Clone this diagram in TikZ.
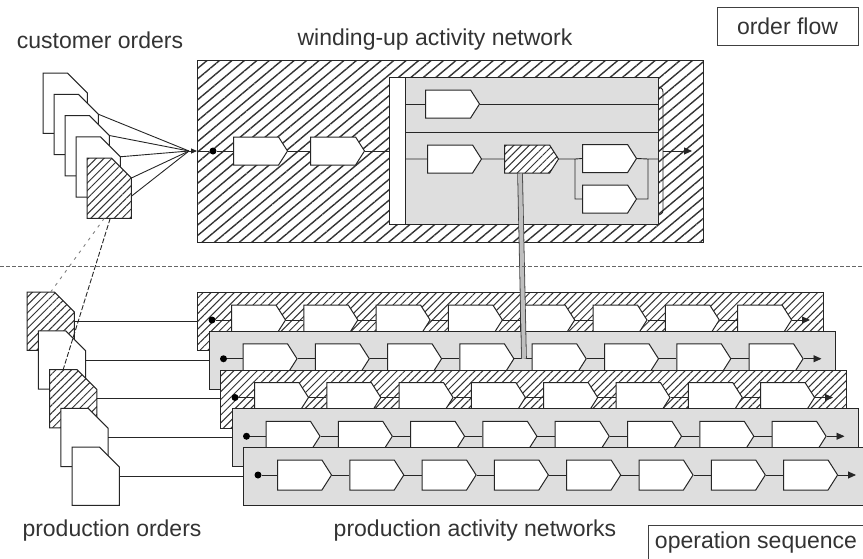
\documentclass[tikz,border=0pt]{standalone}
\usepackage{fontspec}
\setmainfont{Liberation Sans}
\usetikzlibrary{shapes.symbols,patterns.meta,arrows.meta,positioning}

\begin{document}
\begin{tikzpicture}[x=1pt, y=-1pt,
    line_style/.style={line width=0.9pt, black!85},
    act_style/.style={shape=signal, signal to=east, signal pointer angle=115, draw=black!85, line width=1pt, fill=white, minimum width=54pt, minimum height=30pt, inner sep=0pt, anchor=west},
    hatch_style/.style={draw=black!85, line width=1pt, preaction={fill=white}, pattern={Lines[angle=45, distance=5.5pt, line width=1pt]}, pattern color=black!80},
    gray_style/.style={draw=black!85, line width=1pt, fill=black!13},
    plain_style/.style={draw=black!85, line width=1pt, fill=white},
    net_style/.style={rectangle, inner sep=0pt, anchor=north west, minimum width=626pt, minimum height=58pt},
    doc_style/.style={rectangle, inner sep=0pt, anchor=north west},
    dot_style/.style={circle, fill=black, inner sep=0pt, minimum size=7pt},
    arrow_style/.style={line_style, -{Triangle[length=8pt, width=7pt]}},
    text_style/.style={font=\fontsize{23}{27}\selectfont, text=black!80, inner sep=0pt},
    key_style/.style={text_style, draw=black!75, line width=1pt}
  ]
  \def\docpath#1{(#1.south west) -- (#1.north west) -- ([xshift=-20pt]#1.north east) -- ([yshift=-20pt]#1.north east) -- (#1.south east) -- cycle}
  \useasboundingbox (0,0) rectangle (863,558);

  \node[text_style] (lco) at (100,40) {customer orders};
  \node[text_style] (lwn) at (435,40) {winding-up activity network};
  \node[text_style] (lpo) at (112,531) {production orders};
  \node[text_style] (lpn) at (475,531) {production activity networks};
  \node[key_style, minimum width=141pt, minimum height=38pt] (kof) at (787.5,26) {order flow};
  \node[key_style, minimum width=216pt, minimum height=36pt] (kos) at (756,543) {operation sequence};

  \node[hatch_style, pattern={Lines[angle=40, distance=8pt, line width=1.4pt]}, rectangle, inner sep=0pt, anchor=north west, minimum width=506pt, minimum height=182pt] (wn) at (197,60) {};
  \node[gray_style, rectangle, inner sep=0pt, anchor=north west, minimum width=269pt, minimum height=147pt] (wi) at (389,77) {};
  \node[plain_style, rectangle, inner sep=0pt, anchor=north west, minimum width=16pt, minimum height=147pt] (ws) at (389,77) {};
  \draw[line_style] (ws.east |- 0,132) -- (wi.east |- 0,132);

  \node[act_style, minimum height=28pt] (w1) at (233,151) {};
  \node[act_style, minimum height=28pt] (w2) at (310,151) {};
  \node[act_style, minimum height=28pt] (u1) at (425,104) {};
  \node[act_style, minimum height=28pt] (u2) at (427,159) {};
  \node[act_style, minimum height=28pt, hatch_style] (u3) at (504,159) {};
  \node[act_style, minimum height=28pt] (u4) at (582,158.5) {};
  \node[act_style, minimum height=28pt] (u5) at (582,199) {};
  \node[dot_style] (wdot) at (213,151) {};
  \coordinate (cm) at (189,151);
  \coordinate (bx) at (575,159);
  \coordinate (mx) at (648,159);
  \coordinate (wout) at (663,151);
  \coordinate (wend) at (692,151);

  \draw[line_style] (wn.west |- cm) -- (wdot) -- (w1.west);
  \draw[line_style] (w1.east) -- (w2.west) (w2.east) -- (wi.west |- w2.east);
  \draw[line_style] (ws.east |- u1.west) -- (u1.west) (u1.east) -- (wi.east |- u1.east);
  \draw[line_style] (ws.east |- u2.west) -- (u2.west) (u2.east) -- (u3.west) (u3.east) -- (bx) -- (u4.west)
    (bx) |- (u5.west) (u4.east) -- (mx) (u5.east) -| (mx) (mx) -- (wi.east |- mx);
  \draw[line_style] (659,87) .. controls (663,89) .. (663,95) -- (663,207) .. controls (663,213) .. (659,215);
  \draw[arrow_style] (wout) -- (wend);

  \foreach \i/\look in {1/plain_style,2/plain_style,3/plain_style,4/plain_style,5/hatch_style} {
    \node[doc_style, minimum width=44pt, minimum height=60pt] (d\i) at ({32+11*\i},{51.75+21.25*\i}) {};
    \draw[\look] \docpath{d\i};
  }
  \foreach \i in {2,...,5}
    \draw[line_style] ([yshift=-20pt]d\i.north east) -- (cm);
  \draw[line_style] ([yshift=-8pt]d5.east) -- (cm);
  \draw[line_style, -{Triangle[length=6pt, width=5pt]}] (cm) -- (wn.west |- cm);

  \foreach \k/\nlook/\dlook in {0/hatch_style/hatch_style, 1/gray_style/plain_style, 2/hatch_style/hatch_style, 3/gray_style/plain_style, 4/gray_style/plain_style} {
    \pgfmathsetmacro\nx{197+11.5*\k}
    \pgfmathsetmacro\ny{292+38.75*\k}
    \node[doc_style, minimum width=47pt, minimum height=58pt] (po\k) at ({27+11.25*\k},\ny) {};
    \draw[\dlook] \docpath{po\k};
    \node[net_style, \nlook] (n\k) at (\nx,\ny) {};
    \node[dot_style] (dot\k) at ({\nx+15},{\ny+28}) {};
    \coordinate (end\k) at ({\nx+613},{\ny+28});
    \foreach \j in {0,...,7}
      \node[act_style] (a\k-\j) at ({\nx+34+72.3*\j},{\ny+28}) {};
    \draw[line_style] (po\k.east) -- (n\k.west |- po\k.east);
    \draw[line_style] (dot\k) -- (a\k-0.west);
    \foreach \j [count=\i] in {0,...,6}
      \draw[line_style] (a\k-\j.east) -- (a\k-\i.west);
    \draw[arrow_style] (a\k-7.east) -- (end\k);
  }

  \draw[line_style, black!50, dash pattern=on 3pt off 5pt] ([xshift=-5pt]d5.south) -- (po0.north);
  \draw[line_style, dash pattern=on 5pt off 2pt] ([xshift=1pt]d5.south) -- ([xshift=-10pt]po2.north);

  \coordinate (lk) at (524,358.75);
  \draw[line width=0.8pt, black!75, double=black!25, double distance=4pt] ([xshift=-7pt]u3.south) -- (lk);

  \coordinate (sl) at (0,266);
  \coordinate (sr) at (863,266);
  \draw[line width=0.8pt, black!60, dash pattern=on 4pt off 2pt] (sl) -- (sr);
\end{tikzpicture}
\end{document}
